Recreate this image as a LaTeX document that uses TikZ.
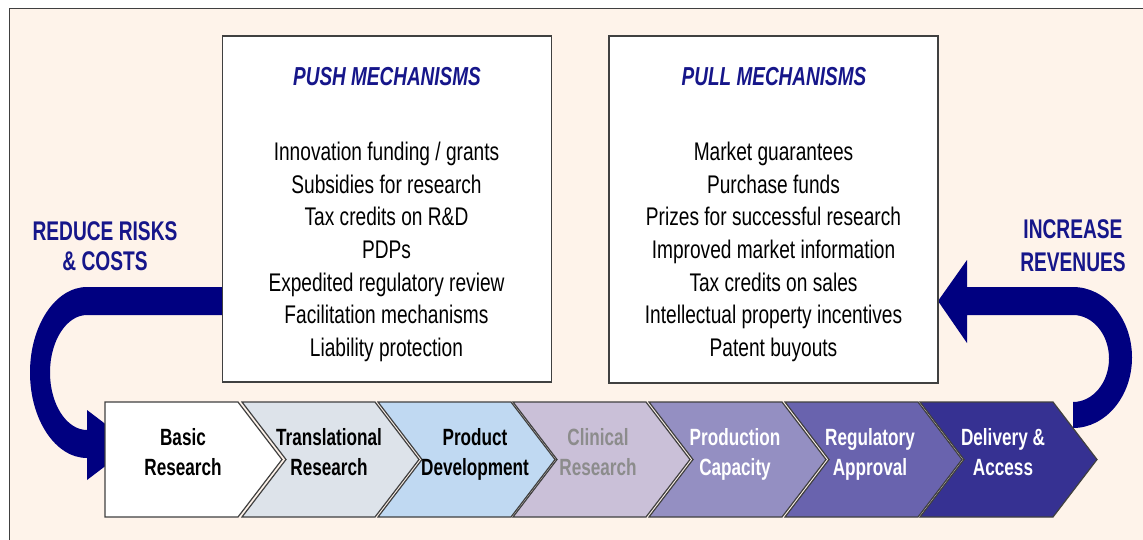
\documentclass[tikz,border=0pt]{standalone}
\usepackage{fontspec}
\setmainfont{Liberation Sans}
\newfontfamily\bodyfont{Liberation Sans}[FakeStretch=0.75]
\newfontfamily\titlefont{Liberation Sans}[FakeStretch=0.73]
\newfontfamily\stagefont{Liberation Sans}[FakeStretch=0.73]
\newfontfamily\sidefont{Liberation Sans}[FakeStretch=0.71]

\definecolor{paper}{HTML}{FEF3EA}
\definecolor{framegray}{HTML}{404040}
\definecolor{arrownavy}{HTML}{000080}
\definecolor{titlenavy}{HTML}{16168A}
\definecolor{stageA}{HTML}{FFFFFF}
\definecolor{stageB}{HTML}{DDE3EA}
\definecolor{stageC}{HTML}{C0D9F2}
\definecolor{stageD}{HTML}{CAC0D8}
\definecolor{stageE}{HTML}{948FC2}
\definecolor{stageF}{HTML}{6963AE}
\definecolor{stageG}{HTML}{363192}
\definecolor{mutedgray}{HTML}{8C8C8C}

\begin{document}
\begin{tikzpicture}[x=1pt,y=-1pt,
  mechbox/.style={draw=framegray, line width=1.3pt, fill=white, inner sep=0pt},
  boxtitle/.style={anchor=base, inner sep=0pt, text=titlenavy,
    font=\titlefont\bfseries\itshape\fontsize{26}{30}\selectfont},
  boxlist/.style={inner sep=0pt, align=center, text=black,
    font=\bodyfont\fontsize{25.5}{32.7}\selectfont},
  stagebox/.style={draw=framegray, line width=1.2pt, line join=miter},
  stagetext/.style={inner sep=0pt, align=center,
    font=\stagefont\bfseries\fontsize{23.5}{30}\selectfont},
  sidelabel/.style={inner sep=0pt, align=center, text=titlenavy,
    font=\sidefont\bfseries\fontsize{27}{#1}\selectfont},
  sidelabel/.default=30
]
\useasboundingbox (0,0) rectangle (1143,539);
\clip (0,0) rectangle (1143,539);
\fill[white] (0,0) rectangle (1143,539);

% panel
\draw[draw=framegray, line width=1.5pt, fill=paper] (9.5,8.5) rectangle (1170,570);

% curved block arrow on the left: from the push box down into the first stage
\fill[arrownavy] (222,287) -- (87,287)
  .. controls (55.5,287) and (30,325.3) .. (30,372.5)
  .. controls (30,419.7) and (55.5,458) .. (87,458)
  -- (87,480) -- (133,445) -- (87,410) -- (87,430)
  .. controls (66.6,430) and (50,404.3) .. (50,372.5)
  .. controls (50,340.7) and (66.6,315) .. (87,315)
  -- (222,315) -- cycle;

% curved block arrow on the right: from the last stage up to the pull box
\fill[arrownavy] (967,287) -- (1073,287)
  .. controls (1105.6,287) and (1132,318.6) .. (1132,357.5)
  .. controls (1132,396.4) and (1105.6,428) .. (1073,428)
  -- (1073,402)
  .. controls (1092.9,402) and (1109,382.5) .. (1109,358.5)
  .. controls (1109,334.5) and (1092.9,315) .. (1073,315)
  -- (967,315) -- (967,343) -- (938,301) -- (967,260) -- cycle;

% mechanism boxes
\node[mechbox, minimum width=329pt, minimum height=346pt] (push) at (387.2,209) {};
\node[mechbox, minimum width=329pt, minimum height=347pt] (pull) at (773.5,209.5) {};

\node[boxtitle] (pushtitle) at (387,85) {PUSH MECHANISMS};
\node[boxtitle] (pulltitle) at (774,85) {PULL MECHANISMS};

\node[boxlist] (pushlist) at (386.5,252) {%
  \strut Innovation funding / grants\\
  \strut Subsidies for research\\
  \strut Tax credits on R\&D\\
  \strut PDPs\\
  \strut Expedited regulatory review\\
  \strut Facilitation mechanisms\\
  \strut Liability protection};
\node[boxlist] (pulllist) at (773.5,252) {%
  \strut Market guarantees\\
  \strut Purchase funds\\
  \strut Prizes for successful research\\
  \strut Improved market information\\
  \strut Tax credits on sales\\
  \strut Intellectual property incentives\\
  \strut Patent buyouts};

% side labels
\node[sidelabel=30] (reduce) at (105,249) {\strut REDUCE RISKS\\\strut \& COSTS};
\node[sidelabel=33] (increase) at (1073,248) {\strut INCREASE\\\strut REVENUES};

% pipeline of stages
\draw[stagebox, fill=stageA] (105,402) -- (238,402) -- (282,459.5) -- (238,517) -- (105,517) -- cycle;
\draw[stagebox, fill=stageB] (242,402) -- (375,402) -- (419,459.5) -- (375,517) -- (242,517) -- (286,459.5) -- cycle;
\draw[stagebox, fill=stageC] (378,402) -- (511,402) -- (555,459.5) -- (511,517) -- (378,517) -- (422,459.5) -- cycle;
\draw[stagebox, fill=stageD] (513,402) -- (646,402) -- (690,459.5) -- (646,517) -- (513,517) -- (557,459.5) -- cycle;
\draw[stagebox, fill=stageE] (649,402) -- (782,402) -- (826,459.5) -- (782,517) -- (649,517) -- (693,459.5) -- cycle;
\draw[stagebox, fill=stageF] (785,402) -- (918,402) -- (962,459.5) -- (918,517) -- (785,517) -- (829,459.5) -- cycle;
\draw[stagebox, fill=stageG] (920,402) -- (1053,402) -- (1097,459.5) -- (1053,517) -- (920,517) -- (964,459.5) -- cycle;

\node[stagetext, text=black] (basic) at (183,454) {\strut Basic\\\strut Research};
\node[stagetext, text=black] (transl) at (329,454) {\strut Translational\\\strut Research};
\node[stagetext, text=black] (product) at (475,454) {\strut Product\\\strut Development};
\node[stagetext, text=mutedgray] (clinical) at (598,454) {\strut Clinical\\\strut Research};
\node[stagetext, text=white] (production) at (735,454) {\strut Production\\\strut Capacity};
\node[stagetext, text=white] (regulatory) at (870,454) {\strut Regulatory\\\strut Approval};
\node[stagetext, text=white] (delivery) at (1003,454) {\strut Delivery \&\\\strut Access};
\end{tikzpicture}
\end{document}
